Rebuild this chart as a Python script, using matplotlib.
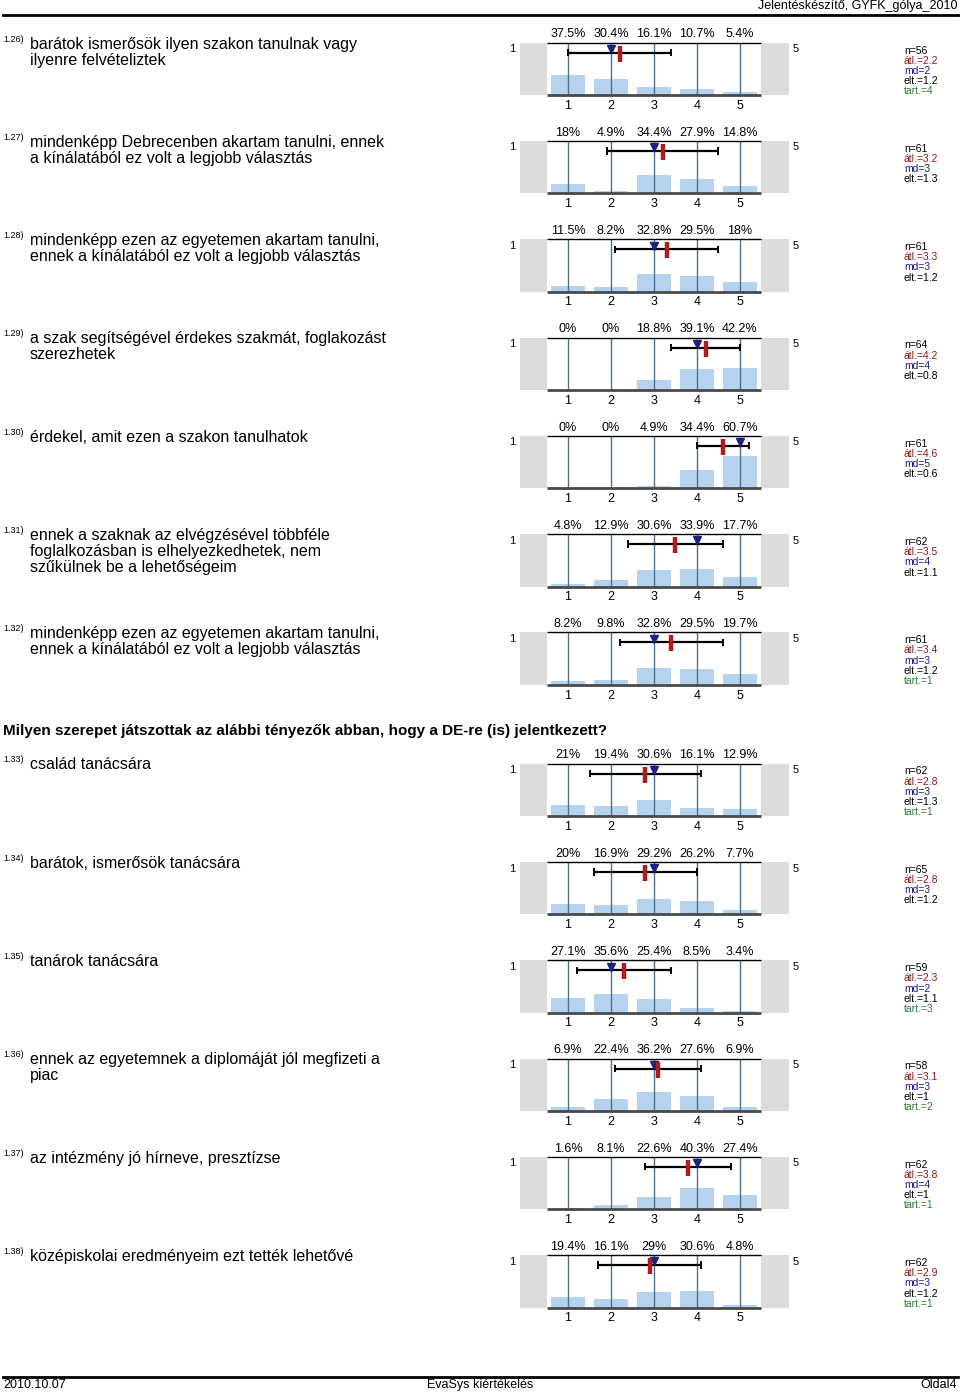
import matplotlib.pyplot as plt

plt.rcParams['font.family'] = ['Liberation Sans', 'DejaVu Sans']

# adatok
codes = ["1.26", "1.27", "1.28", "1.29", "1.30", "1.31", "1.32",
         "1.33", "1.34", "1.35", "1.36", "1.37", "1.38"]
questions = [
    "barátok ismerősök ilyen szakon tanulnak vagy\nilyenre felvételiztek",
    "mindenképp Debrecenben akartam tanulni, ennek\na kínálatából ez volt a legjobb választás",
    "mindenképp ezen az egyetemen akartam tanulni,\nennek a kínálatából ez volt a legjobb választás",
    "a szak segítségével érdekes szakmát, foglakozást\nszerezhetek",
    "érdekel, amit ezen a szakon tanulhatok",
    "ennek a szaknak az elvégzésével többféle\nfoglalkozásban is elhelyezkedhetek, nem\nszűkülnek be a lehetőségeim",
    "mindenképp ezen az egyetemen akartam tanulni,\nennek a kínálatából ez volt a legjobb választás",
    "család tanácsára",
    "barátok, ismerősök tanácsára",
    "tanárok tanácsára",
    "ennek az egyetemnek a diplomáját jól megfizeti a\npiac",
    "az intézmény jó hírneve, presztízse",
    "középiskolai eredményeim ezt tették lehetővé",
]
scale = [1, 2, 3, 4, 5]
pcts = [
    [37.5, 30.4, 16.1, 10.7, 5.4],
    [18, 4.9, 34.4, 27.9, 14.8],
    [11.5, 8.2, 32.8, 29.5, 18],
    [0, 0, 18.8, 39.1, 42.2],
    [0, 0, 4.9, 34.4, 60.7],
    [4.8, 12.9, 30.6, 33.9, 17.7],
    [8.2, 9.8, 32.8, 29.5, 19.7],
    [21, 19.4, 30.6, 16.1, 12.9],
    [20, 16.9, 29.2, 26.2, 7.7],
    [27.1, 35.6, 25.4, 8.5, 3.4],
    [6.9, 22.4, 36.2, 27.6, 6.9],
    [1.6, 8.1, 22.6, 40.3, 27.4],
    [19.4, 16.1, 29, 30.6, 4.8],
]
n_vals = [56, 61, 61, 64, 61, 62, 61, 62, 65, 59, 58, 62, 62]
means = [2.2, 3.2, 3.3, 4.2, 4.6, 3.5, 3.4, 2.8, 2.8, 2.3, 3.1, 3.8, 2.9]
medians = [2, 3, 3, 4, 5, 4, 3, 3, 3, 2, 3, 4, 3]
stdevs = [1.2, 1.3, 1.2, 0.8, 0.6, 1.1, 1.2, 1.3, 1.2, 1.1, 1, 1, 1.2]
abst = [4, None, None, None, None, None, 1, 1, None, 3, 2, 1, 1]

section_title = "Milyen szerepet játszottak az alábbi tényezők abban, hogy a DE-re (is) jelentkezett?"

W, H = 960, 1395
fig = plt.figure(figsize=(W / 100, H / 100), dpi=100)


def ftext(x, y, s, **kw):
    fig.text(x / W, 1 - y / H, s, **kw)


def fline(x0, x1, y, lw, color="black"):
    fig.add_artist(plt.Line2D([x0 / W, x1 / W], [1 - y / H, 1 - y / H],
                              transform=fig.transFigure, lw=lw, color=color))


# fejléc / lábléc
ftext(958, 6, "Jelentéskészítő, GYFK_gólya_2010", ha="right", va="center", fontsize=9)
fline(3, 958, 14.5, 2)
fline(3, 958, 1377, 2)
ftext(3, 1385, "2010.10.07", ha="left", va="center", fontsize=9)
ftext(480, 1385, "EvaSys kiértékelés", ha="center", va="center", fontsize=9)
ftext(957, 1385, "Oldal4", ha="right", va="center", fontsize=9)
ftext(3, 731, section_title, ha="left", va="center", fontsize=11, fontweight="bold")

bar_col = "#b5d3ee"
vline_col = "#4b7294"
gray = "#dcdcdc"

for i in range(len(codes)):
    off = 98.3 * i if i < 7 else 721 + 98.3 * (i - 7)
    top = 42.7 + off
    bot = 95 + off
    x0, x1 = 520, 789
    ax = fig.add_axes([x0 / W, 1 - bot / H, (x1 - x0) / W, (bot - top) / H])
    xl = (1 - (568 - x0) / 43, 1 + (x1 - 568) / 43)
    ax.set_xlim(*xl)
    ax.set_ylim(0, 100)
    for s in ax.spines.values():
        s.set_visible(False)
    ax.set_yticks([])
    ax.set_xticks(scale)
    ax.set_xticklabels([str(v) for v in scale])
    ax.tick_params(axis="x", length=0, pad=3.5, labelsize=9)

    ax.axvspan(xl[0], 0.5, color=gray, lw=0)
    ax.axvspan(5.5, xl[1], color=gray, lw=0)
    ax.bar(scale, pcts[i], width=0.81, color=bar_col, zorder=1)
    ax.vlines(scale, 0, 100, color=vline_col, lw=1, zorder=2)
    ax.hlines(100, 0.5, 5.5, color="black", lw=1, clip_on=False, zorder=3)
    ax.hlines(0, 0.5, 5.5, color="#4a4a4a", lw=2, clip_on=False, zorder=3)

    # szórás, átlag, medián
    lo, hi = means[i] - stdevs[i], means[i] + stdevs[i]
    ax.hlines(81, lo, hi, color="black", lw=1.6, zorder=4)
    ax.vlines([lo, hi], 74, 88, color="black", lw=1.4, zorder=4)
    ax.plot(medians[i], 88, marker="v", color="#1a237e", ms=5.5, zorder=5)
    ax.plot(means[i], 79, marker="|", color="#b01c1c", ms=11, mew=3.2, zorder=6)

    for v, p in zip(scale, pcts[i]):
        ax.annotate(f"{p:g}%", (v, 100), xytext=(0, 6), textcoords="offset points",
                    ha="center", va="center", fontsize=9, annotation_clip=False)

    ftext(512, top + 6.5, "1", ha="center", va="center", fontsize=8)
    ftext(796, top + 6.5, "5", ha="center", va="center", fontsize=8)

    # kérdés
    ftext(3, off + 39, codes[i] + ")", ha="left", va="center", fontsize=6.5)
    for j, line in enumerate(questions[i].split("\n")):
        ftext(30, off + 44 + 16 * j, line, ha="left", va="center", fontsize=11.5)

    # statisztika
    stats = [(f"n={n_vals[i]}", "black"), (f"átl.={means[i]:g}", "#8b1a1a"),
             (f"md={medians[i]}", "#1a1a8b"), (f"elt.={stdevs[i]:g}", "black")]
    if abst[i] is not None:
        stats.append((f"tart.={abst[i]}", "#2e7d32"))
    for j, (s, c) in enumerate(stats):
        ftext(904, off + 50.5 + 10.2 * j, s, ha="left", va="center", fontsize=7.5, color=c)

fig.savefig("out.png", dpi=100)
